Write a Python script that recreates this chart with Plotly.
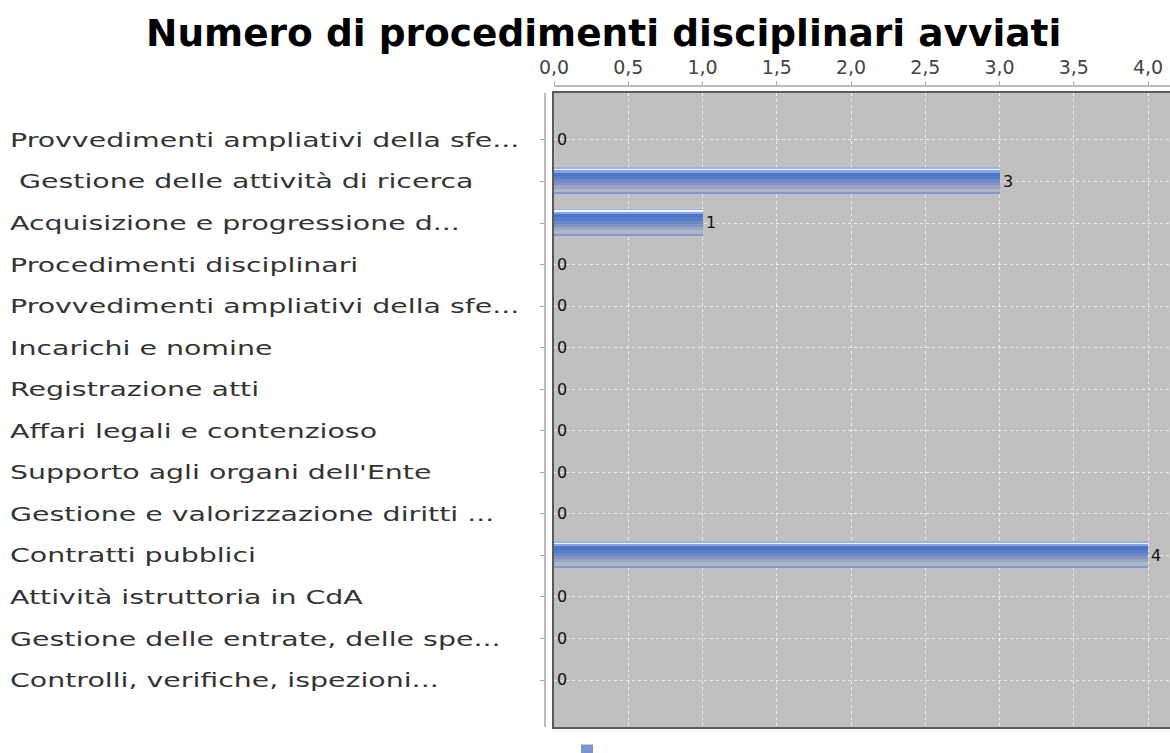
import plotly.graph_objects as go

# ---- data ----
categories = [
    "Provvedimenti ampliativi della sfe...",
    " Gestione delle attività di ricerca",
    "Acquisizione e progressione d...",
    "Procedimenti disciplinari",
    "Provvedimenti ampliativi della sfe...",
    "Incarichi e nomine",
    "Registrazione atti",
    "Affari legali e contenzioso",
    "Supporto agli organi dell'Ente",
    "Gestione e valorizzazione diritti ...",
    "Contratti pubblici",
    "Attività istruttoria in CdA",
    "Gestione delle entrate, delle spe...",
    "Controlli, verifiche, ispezioni...",
]
values = [0, 3, 1, 0, 0, 0, 0, 0, 0, 0, 4, 0, 0, 0]
x_ticks = [0, 0.5, 1.0, 1.5, 2.0, 2.5, 3.0, 3.5, 4.0]
title = "Numero di procedimenti disciplinari avviati"

positions = list(range(len(categories)))

# ---- style ----
W, H = 1170, 753
ML, MT, MB, MR = 545, 86, 26, 0
pw, ph = W - ML - MR, H - MT - MB
frame_left = 554
frame_top = 93
x_dom0 = (frame_left - ML) / pw
y_dom1 = 1 - (frame_top - MT) / ph
px_per_unit = 148.5
x_max = (W - frame_left) / px_per_unit

bar_off = -0.33
bar_w = 0.64
# gradient bands: (start fraction, end fraction, color) from top of bar
bands = [
    (0.00, 0.06, "#9ab2e8"),
    (0.06, 0.12, "#f2f5fc"),
    (0.12, 0.18, "#8aa4e2"),
    (0.18, 0.30, "#4c75c8"),
    (0.30, 0.42, "#587cc8"),
    (0.42, 0.54, "#6b88c7"),
    (0.54, 0.66, "#8294c6"),
    (0.66, 0.78, "#99a5c5"),
    (0.78, 0.92, "#b0b6c4"),
    (0.92, 1.00, "#7f99d6"),
]
grid_col = "#ececec"
grid_dash = "3px,3px"

fig = go.Figure()
fig.add_trace(go.Bar(
    x=values, y=positions, orientation="h",
    offset=bar_off, width=bar_w,
    marker=dict(color="#7a94d0", line=dict(width=0)),
    text=[str(v) for v in values], textposition="outside",
    textfont=dict(family="DejaVu Sans", size=16, color="#111"),
    cliponaxis=False, name="", showlegend=True,
))
for s, e, c in bands:
    fig.add_trace(go.Bar(
        x=values, y=positions, orientation="h",
        offset=bar_off + s * bar_w, width=(e - s) * bar_w,
        marker=dict(color=c, line=dict(width=0)),
        showlegend=False, hoverinfo="skip",
    ))
# carrier for the secondary (outer) axes
fig.add_trace(go.Bar(x=[0], y=[0], xaxis="x2", yaxis="y2", orientation="h",
                     showlegend=False, marker=dict(color="rgba(0,0,0,0)"), hoverinfo="skip"))

for i, lab in enumerate(categories):
    fig.add_annotation(
        x=(8 - ML) / pw, xref="paper", y=positions[i], yref="y",
        text=lab, showarrow=False, xanchor="left", yanchor="middle", align="left",
        font=dict(family="DejaVu Sans", size=20, color="#333"),
    )

fig.add_annotation(
    x=(603 - ML) / pw, xref="paper", y=(H - 33 - MB) / ph, yref="paper",
    text="<b>" + title + "</b>", showarrow=False, xanchor="center", yanchor="middle",
    font=dict(family="DejaVu Sans", size=37.5, color="#000"),
)

fig.update_layout(
    width=W, height=H,
    margin=dict(l=ML, r=MR, t=MT, b=MB, pad=0, autoexpand=False),
    paper_bgcolor="white", plot_bgcolor="#c0c0c0",
    barmode="overlay", bargap=0,
    separators=",.",
    showlegend=True,
    legend=dict(x=(567 - ML) / pw, y=(727 - 736) / ph, xanchor="left", yanchor="top",
                bgcolor="rgba(0,0,0,0)", font=dict(size=12), itemwidth=30),
    xaxis=dict(domain=[x_dom0, 1], range=[0, x_max], showticklabels=False,
               tickvals=x_ticks, showgrid=True, gridcolor=grid_col, griddash=grid_dash,
               gridwidth=1, zeroline=False, showline=True, linecolor="#5a5a5a",
               linewidth=1.5, mirror=True, anchor="y", ticks=""),
    yaxis=dict(domain=[0, y_dom1], range=[14.13, -1.13], tickvals=positions,
               showticklabels=False, showgrid=True, gridcolor=grid_col,
               griddash=grid_dash, gridwidth=1, zeroline=False, showline=True,
               linecolor="#5a5a5a", linewidth=1.5, mirror=True, anchor="x", ticks=""),
    xaxis2=dict(overlaying="x", matches="x", anchor="free", position=1, side="top",
                domain=[x_dom0, 1], range=[0, x_max], tickvals=x_ticks, tickformat=".1f",
                showgrid=False, zeroline=False, showline=True, linecolor="#bbb",
                linewidth=1.5, ticks="outside", ticklen=4, tickcolor="#aaa",
                tickfont=dict(family="DejaVu Sans", size=19, color="#444")),
    yaxis2=dict(overlaying="y", matches="y", anchor="free", position=0, side="left",
                domain=[0, y_dom1], range=[14.13, -1.13], tickvals=positions,
                showticklabels=False, showgrid=False, zeroline=False, showline=True,
                linecolor="#bbb", linewidth=1.5, ticks="outside", ticklen=4,
                tickcolor="#aaa"),
)

post = """
document.body.style.margin = '0';
document.body.style.overflow = 'hidden';
var gd = document.getElementById('{plot_id}');
function stretchLabels() {
  var anns = gd.querySelectorAll('g.annotation');
  anns.forEach(function(a) {
    var idx = parseInt(a.getAttribute('data-index'));
    if (isNaN(idx) || idx >= %d) return;
    var t = a.querySelector('text.annotation-text');
    if (!t || t.getAttribute('data-str') === '1') return;
    var bb = t.getBBox();
    var L = t.getComputedTextLength();
    t.setAttribute('text-anchor', 'start');
    t.setAttribute('x', bb.x);
    t.setAttribute('textLength', L * 1.42);
    t.setAttribute('lengthAdjust', 'spacingAndGlyphs');
    t.setAttribute('data-str', '1');
  });
}
stretchLabels();
if (gd.on) { gd.on('plotly_afterplot', stretchLabels); }
""" % len(categories)

fig.write_html("out.html", post_script=post, config={"displayModeBar": False})
